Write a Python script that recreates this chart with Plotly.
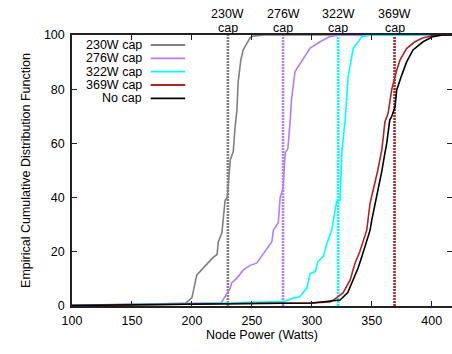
import plotly.graph_objects as go

# ---- data ----
series_names = ["230W cap", "276W cap", "322W cap", "369W cap", "No cap"]
series_colors = ["#808080", "#b27dff", "#00ffff", "#ad2626", "#000000"]
caps = [230, 276, 322, 369]
cap_labels = ["230W", "276W", "322W", "369W"]

gray_x = [100, 150, 195, 196, 200, 204, 209, 213.6, 218, 221, 222, 225, 227.7, 229.5, 232, 234.5, 236, 237.5, 238.6, 240.8, 242.8, 246, 248.6, 251, 260, 420]
gray_y = [0.3, 0.6, 1.0, 1.5, 3, 11.4, 14, 16, 18, 19, 23.6, 27, 39, 40, 54, 57, 66, 72, 82.8, 90.8, 94.5, 97, 99, 99.6, 100, 100]

purple_x = [100, 200, 224, 225, 232, 233, 237.5, 243, 248.6, 254, 257, 262.5, 266.7, 268, 272, 273.6, 276, 277.8, 280, 282, 283, 286, 288.6, 292.8, 298.6, 307, 315, 320.8, 326, 420]
purple_y = [0.2, 0.8, 1.2, 1.6, 6.6, 8.4, 10.3, 13.3, 15, 15.8, 17.7, 21.4, 23.7, 28, 30.6, 40, 43.5, 56.5, 58, 68.6, 76, 86.5, 88.3, 91.5, 95.2, 97.5, 99.4, 99.8, 100, 100]

cyan_x = [100, 200, 276, 284.5, 290, 295.8, 298.6, 302.8, 305, 309.5, 312.5, 315, 316.7, 319.4, 320.8, 323.6, 325, 326, 327.8, 330.3, 334.5, 338.6, 341.7, 350, 420]
cyan_y = [0.2, 0.8, 1.6, 2.9, 3.4, 6.6, 12, 12.7, 16.4, 18.2, 23, 25.6, 28, 35.4, 38.5, 39, 56.4, 61, 68.6, 84.6, 95, 97.5, 99.4, 100, 100]

brown_x = [100, 150, 250, 300, 315, 318, 326, 332, 336, 340, 344.4, 345.8, 348.6, 352.7, 355, 358.5, 361, 363.6, 366.7, 370.8, 373.6, 379, 386, 392.8, 401, 410, 420]
brown_y = [0.2, 0.5, 0.9, 1.1, 1.5, 2.2, 4.8, 9.6, 15.8, 20, 25.6, 28, 38, 45.9, 50, 58, 68, 71, 80, 87, 90.8, 95, 97.5, 99, 99.7, 100, 100]

black_x = [100, 150, 250, 300, 320, 323.6, 330, 334.5, 338.6, 341.7, 345.8, 348.6, 350, 354, 358.3, 361, 362.5, 365, 366.7, 369.4, 370.8, 375, 379, 384.4, 392.8, 401, 409, 420]
black_y = [0.2, 0.5, 0.9, 1.1, 1.8, 2.2, 5, 9.6, 14, 18.2, 23.7, 28, 31.7, 40, 49.6, 56.5, 60, 68.6, 70, 73.5, 79.7, 85.2, 90, 94.5, 97.5, 99.4, 100, 100]

xs = [gray_x, purple_x, cyan_x, brown_x, black_x]
ys = [gray_y, purple_y, cyan_y, brown_y, black_y]

x_ticks = [100, 150, 200, 250, 300, 350, 400]
y_ticks = [0, 20, 40, 60, 80, 100]

FONT = "Liberation Sans, Arial, sans-serif"
FS = 12.5

fig = go.Figure()

# vertical cap lines
for c, col in zip(caps, series_colors[:4]):
    fig.add_trace(go.Scatter(x=[c, c], y=[0, 100], mode="lines",
                             line=dict(color=col, width=2.6, dash="2px,1px"),
                             showlegend=False, hoverinfo="skip"))

# CDF curves
for x, y, col, name in zip(xs, ys, series_colors, series_names):
    fig.add_trace(go.Scatter(x=x, y=y, mode="lines", name=name,
                             line=dict(color=col, width=1.6), showlegend=False))

L, R = 71.7, 452.0
T, B = 35.0, 306.0
def px2x(px):
    return (px - L) / (R - L)
def py2y(py):
    return (B - py) / (B - T)

# cap labels on top
for c, lab in zip(caps, cap_labels):
    fig.add_annotation(x=c, y=py2y(14), yref="paper", text=lab, showarrow=False, height=12,
                       xanchor="center", yanchor="middle", font=dict(size=FS, color="black", family=FONT))
    fig.add_annotation(x=c, y=py2y(27.5), yref="paper", text="cap", showarrow=False, height=12,
                       xanchor="center", yanchor="middle", font=dict(size=FS, color="black", family=FONT))

# custom legend (text right-aligned, sample on the right)
leg_py = [45, 58.3, 71.7, 85, 98.3]
for name, col, py in zip(series_names, series_colors, leg_py):
    fig.add_annotation(x=px2x(143.5), y=py2y(py), xref="paper", yref="paper", text=name,
                       showarrow=False, xanchor="right", yanchor="middle", height=12,
                       font=dict(size=FS, color="black", family=FONT))
    fig.add_shape(type="line", xref="paper", yref="paper",
                  x0=px2x(150.5), x1=px2x(185), y0=py2y(py), y1=py2y(py),
                  line=dict(color=col, width=1.8))

axis_common = dict(showgrid=False, zeroline=False, showline=True, linecolor="#222",
                   linewidth=1.5, mirror="ticks", ticks="inside", ticklen=5, tickwidth=1,
                   tickcolor="#222", tickfont=dict(size=FS, color="black", family=FONT),
                   automargin=False)

fig.update_xaxes(range=[100, 100 + (R - L) / 1.2], tickvals=x_ticks, ticklabelstandoff=2,
                 title=dict(text="Node Power (Watts)", font=dict(size=FS, color="black", family=FONT),
                            standoff=2),
                 **axis_common)
fig.update_yaxes(range=[0, 100], tickvals=y_ticks, ticklabelstandoff=3,
                 title=dict(text="Empirical Cumulative Distribution Function",
                            font=dict(size=FS, color="black", family=FONT), standoff=11),
                 **axis_common)

fig.update_layout(width=452, height=354, margin=dict(l=72, r=0, t=35, b=48, autoexpand=False),
                  plot_bgcolor="white", paper_bgcolor="white", showlegend=False,
                  font=dict(family=FONT, size=FS, color="black"))

fig.write_html("out.html", config={"displayModeBar": False},
               post_script="document.body.style.margin='0px';document.body.style.overflow='hidden';")
